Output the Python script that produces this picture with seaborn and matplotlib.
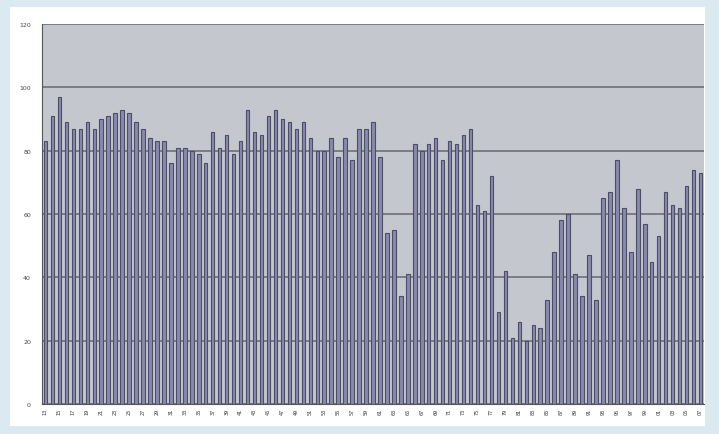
import matplotlib
matplotlib.use("Agg")
import matplotlib.pyplot as plt
import matplotlib.patches as mpatches
import seaborn as sns
import pandas as pd

# ----------------------------
# Data
# ----------------------------
labels = [f"{(13 + i) % 100:02d}" for i in range(95)]
values = [
    83, 91, 97, 89, 87, 87, 89, 87, 90, 91, 92, 93, 92, 89, 87, 84, 83, 83, 76, 81,
    81, 80, 79, 76, 86, 81, 85, 79, 83, 93, 86, 85, 91, 93, 90, 89, 87, 89, 84, 80,
    80, 84, 78, 84, 77, 87, 87, 89, 78, 54, 55, 34, 41, 82, 80, 82, 84, 77, 83, 82,
    85, 87, 63, 61, 72, 29, 42, 21, 26, 20, 25, 24, 33, 48, 58, 60, 41, 34, 47, 33,
    65, 67, 77, 62, 48, 68, 57, 45, 53, 67, 63, 62, 69, 74, 73,
]
yticks = [0, 20, 40, 60, 80, 100, 120]

df = pd.DataFrame({"label": labels, "value": values})

# ----------------------------
# Figure with white card on light-blue background
# ----------------------------
sns.set_style("white")
fig = plt.figure(figsize=(7.19, 4.35), dpi=100)
fig.patch.set_facecolor("#dbe9f1")
W, H = 719, 435
card = mpatches.Rectangle((10 / W, 8 / H), 695 / W, 419 / H,
                          transform=fig.transFigure, facecolor="white",
                          edgecolor="none", zorder=-5)
fig.patches.append(card)

ax = fig.add_axes([42 / W, 30 / H, 662 / W, 380 / H])
ax.set_zorder(2)
ax.set_facecolor("#c4c7ce")

sns.barplot(data=df, x="label", y="value", ax=ax, width=0.5,
            color="#8789ad", edgecolor="#4d4d66", linewidth=0.8,
            saturation=1, zorder=3)

ax.set_ylim(0, 120)
ax.set_yticks(yticks)
ax.set_yticklabels([str(t) for t in yticks], fontsize=4.5, color="#444444")
ax.yaxis.grid(True, color="#6f7074", linewidth=1.2, zorder=1)
ax.set_axisbelow(True)

ax.set_xticks(range(0, len(labels), 2))
ax.set_xticklabels(labels[::2], rotation=90, fontsize=3.5, color="#333333")
ax.tick_params(axis="x", length=2, width=0.6, pad=1)
ax.tick_params(axis="y", length=2, width=0.6, pad=6)
ax.set_xlabel("")
ax.set_ylabel("")

for side in ["top", "right"]:
    ax.spines[side].set_visible(False)
ax.spines["left"].set_color("#555555")
ax.spines["bottom"].set_color("#555555")

fig.savefig("out.png", dpi=100, facecolor=fig.get_facecolor())
